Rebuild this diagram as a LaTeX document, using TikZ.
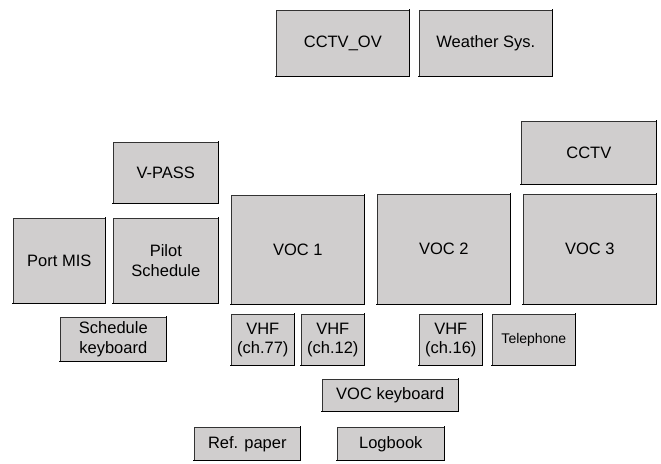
\documentclass[tikz,border=0pt]{standalone}
\usepackage{fontspec}
\setmainfont{Liberation Sans}
\definecolor{boxgray}{HTML}{D0CECE}
\tikzset{
  box/.style={draw=black!80, line width=0.6pt, fill=boxgray, inner sep=0pt, align=center, anchor=north west, font=\fontsize{16.5}{19.5}\selectfont},
  small/.style={font=\fontsize{14}{16}\selectfont},
  edge/.style={line width=1.5pt, line cap=rect}
}
\newcommand{\bx}[6]{%
  \node[box, minimum width=#4pt-#2pt, minimum height=#5pt-#3pt] (#1) at (#2,#3) {#6};
  \draw[edge] (#1.south west) -- (#1.south east) -- (#1.north east);
}
\newcommand{\bxs}[6]{%
  \node[box, small, minimum width=#4pt-#2pt, minimum height=#5pt-#3pt] (#1) at (#2,#3) {#6};
  \draw[edge] (#1.south west) -- (#1.south east) -- (#1.north east);
}
\begin{document}
\begin{tikzpicture}[x=1pt,y=-1pt]
\useasboundingbox (0,0) rectangle (661,463);
\bx{cctvov}{276}{10}{409}{76}{CCTV\_OV}
\bx{weather}{419}{10}{552}{76}{Weather Sys.}
\bx{cctv}{521}{121}{656}{184}{CCTV}
\bx{vpass}{113}{142}{218}{203}{V-PASS}
\bx{portmis}{13}{218}{105}{303}{Port MIS}
\bx{pilot}{113}{218}{218}{303}{Pilot\\Schedule}
\bx{voc1}{231}{195}{364}{304}{VOC 1}
\bx{voc2}{377}{194}{510}{304}{VOC 2}
\bx{voc3}{523}{194}{656}{304}{VOC 3}
\bx{schedkb}{60}{317}{166}{361}{Schedule\\keyboard}
\bx{vhf77}{231}{314}{294}{365}{VHF\\(ch.77)}
\bx{vhf12}{301}{314}{364}{365}{VHF\\(ch.12)}
\bx{vhf16}{419}{314}{482}{365}{VHF\\(ch.16)}
\bxs{tel}{492}{314}{575}{365}{Telephone}
\bx{vockb}{322}{379}{458}{411}{VOC keyboard}
\bx{refpaper}{194}{427}{300}{460}{Ref. paper}
\bx{logbook}{337}{427}{444}{460}{Logbook}
\end{tikzpicture}
\end{document}
